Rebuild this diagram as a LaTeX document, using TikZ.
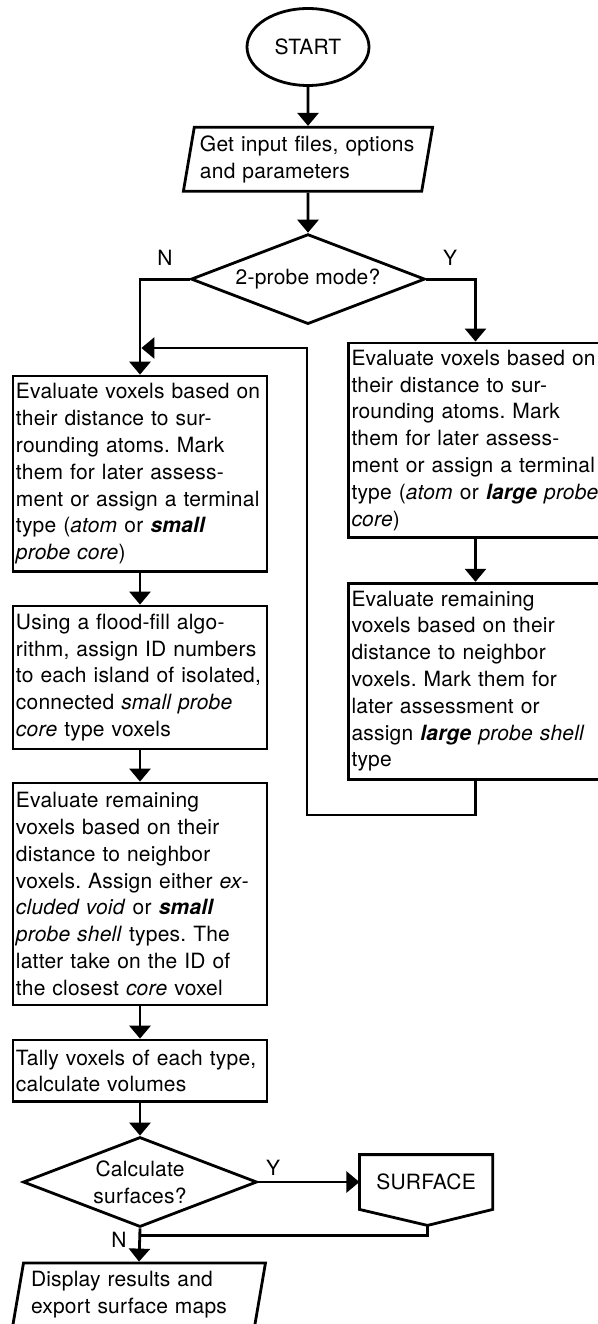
\documentclass[tikz,border=0pt]{standalone}
\usepackage{fontspec}
\setmainfont[LetterSpace=1]{TeX Gyre Heros}
\usetikzlibrary{shapes.geometric,arrows.meta,positioning}
\frenchspacing

\begin{document}
\begin{tikzpicture}[x=1pt, y=-1pt, line width=2.8pt, -{Triangle[length=13pt,width=21pt]},
  font=\fontsize{21}{26.8}\selectfont,
  box/.style={draw, rectangle, align=left, text width=248pt, inner xsep=3pt, inner ysep=2pt},
  io/.style={draw, trapezium, trapezium left angle=77.6, trapezium right angle=102.4, trapezium stretches=true, minimum width=250pt, minimum height=64pt, inner sep=0pt, align=left, text width=216pt},
  dec/.style={draw, diamond, aspect=2.6, minimum width=234pt, minimum height=90pt, inner sep=0pt, align=center}]
\useasboundingbox (0,0) rectangle (597,1324);
\node  (1)[draw, ellipse, minimum width=122pt, minimum height=77pt, inner sep=0pt] at (308,47) {START};
\node  (2)[io] [below=39pt of 1] {Get input files, options\\and parameters};
\node  (3)[dec] [below=40pt of 2] {2-probe mode?};
\node  (4)[box, minimum height=195.7pt] at (140,473.9) {Evaluate voxels based on\\their distance to sur-\\rounding atoms. Mark\\them for later assess-\\ment or assign a terminal\\type (\textit{atom} or \textbf{\textit{small}}\\\textit{probe core})};
\node  (5)[box, minimum height=143pt] at (140,677.5) {Using a flood-fill algo-\\rithm, assign ID numbers\\to each island of isolated,\\connected \textit{small probe}\\\textit{core} type voxels};
\node  (6)[box, minimum height=222pt] at (140,894) {Evaluate remaining\\voxels based on their\\distance to neighbor\\voxels. Assign either \textit{ex-}\\\textit{cluded void} or \textbf{\textit{small}}\\\textit{probe shell} types. The\\latter take on the ID of\\the closest \textit{core} voxel};
\node  (7)[box, minimum height=61.7pt] at (140,1070.9) {Tally voxels of each type,\\calculate volumes};
\node  (8)[dec] at (140,1182) {Calculate\\surfaces?};
\node  (9)[io, minimum width=253pt] at (139,1295) {Display results and\\export surface maps};
\node (10)[box, minimum height=194.7pt] at (475.5,440.3) {Evaluate voxels based on\\their distance to sur-\\rounding atoms. Mark\\them for later assess-\\ment or assign a terminal\\\mbox{type (\textit{atom} or \textbf{\textit{large}} \textit{probe}}\\\textit{core})};
\node (11)[box, minimum height=196pt] at (475.5,681.2) {Evaluate remaining\\voxels based on their\\distance to neighbor\\voxels. Mark them for\\later assessment or\\assign \textbf{\textit{large}} \textit{probe shell}\\type};
\node (12)[minimum width=130.6pt, minimum height=52pt, inner sep=0pt] [right=101pt of 8] {SURFACE};
\draw[-] (12.north west) -- (12.north east) -- (12.south east) -- ++(-65.3,16) coordinate (13) -- (12.south west) -- cycle;
\node (n1) at (165,258) {N};
\node (y1) at (450,258) {Y};
\node (y2) at (273,1168) {Y};
\node (n2) at (119,1240) {N};
\coordinate (a) at (307,815);
\coordinate (b) at (307,348);
\coordinate (c) at (140,348);
\coordinate (d) at (140,1235.7);
\draw (1) -- (2);
\draw (2) -- (3);
\draw (3.west) -| (4.north);
\draw (3.east) -| (10.north);
\draw (10) -- (11);
\draw[shorten >=1.4pt] (11.south) |- (a) -- (b) -- (c);
\draw (4) -- (5);
\draw (5) -- (6);
\draw (6) -- (7);
\draw (7) -- (8);
\draw (8.east) -- (12.west);
\draw[-] (13) |- (d);
\draw (8.south) -- (9.north);
\end{tikzpicture}
\end{document}
